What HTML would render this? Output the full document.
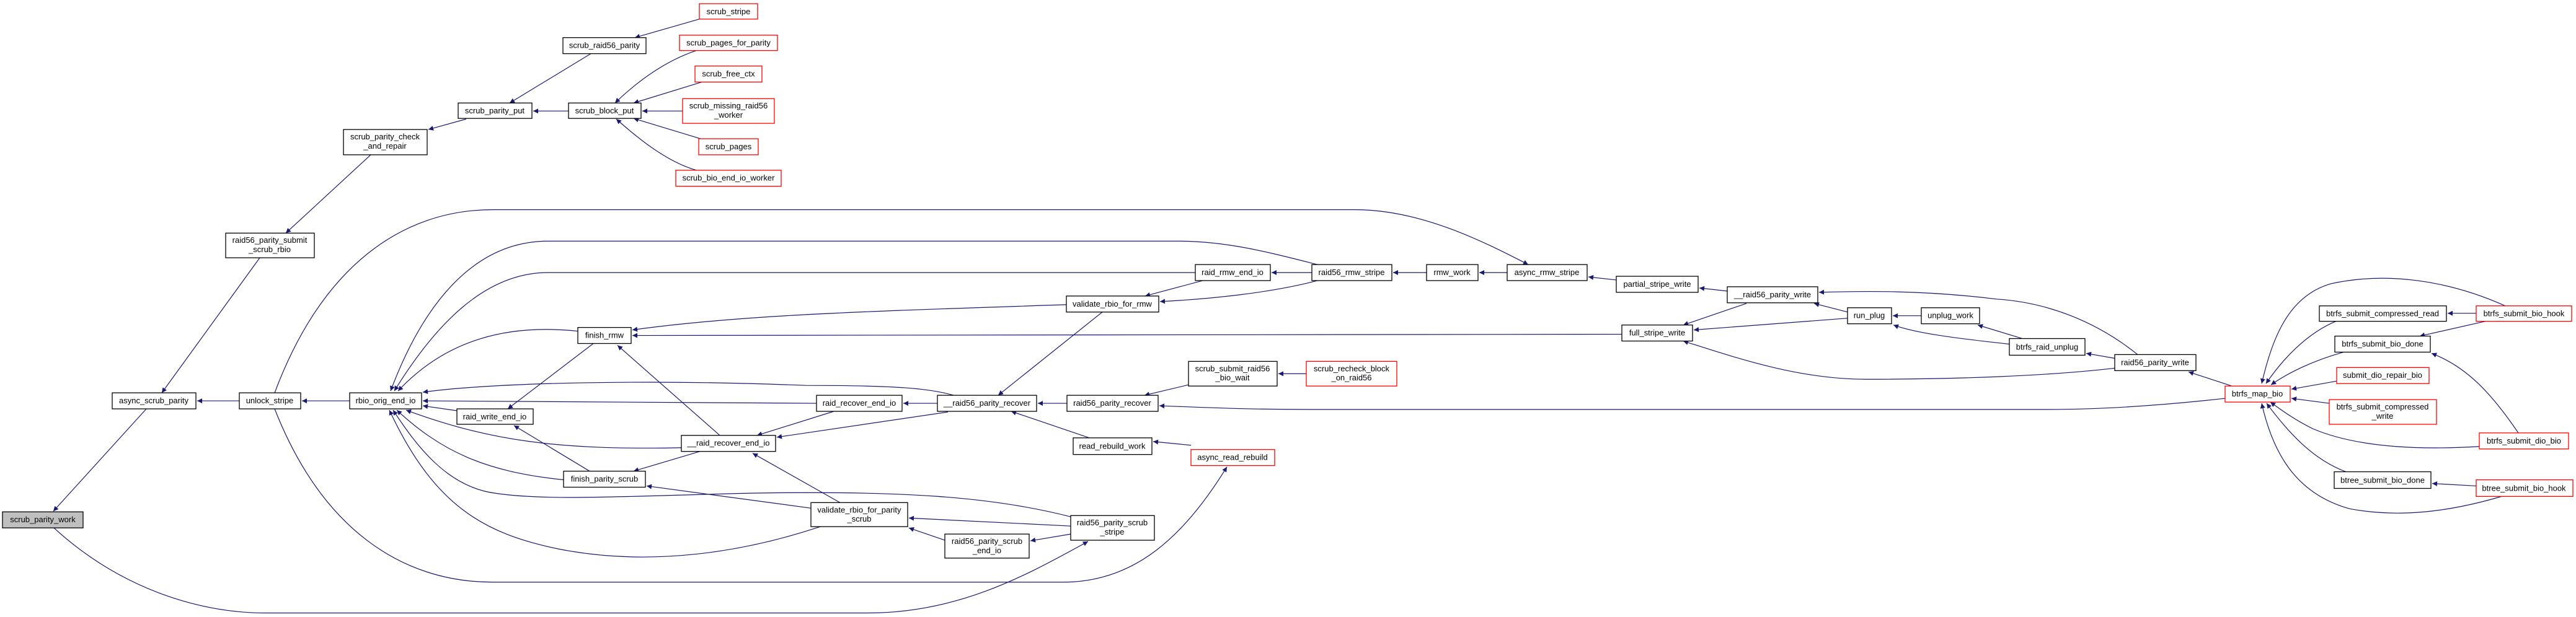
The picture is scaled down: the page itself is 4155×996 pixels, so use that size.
<!DOCTYPE html>
<html><head><meta charset="utf-8"><style>
html,body{margin:0;padding:0;background:#fff;width:4155px;height:996px;overflow:hidden}
svg{display:block}
text{font-family:"Liberation Sans",sans-serif;font-size:13px;fill:#000}
.n{fill:#fff;stroke:#000;stroke-width:1.3}
.r{fill:#fff;stroke:#ff0000;stroke-width:1.3}
.g{fill:#bfbfbf;stroke:#000;stroke-width:1.3}
.e{fill:none;stroke:#191970;stroke-width:1.2;marker-end:url(#a)}
</style></head><body>
<svg width="4155" height="996" viewBox="0 0 4155 996" xmlns="http://www.w3.org/2000/svg">
<defs><marker id="a" viewBox="0 0 10 10" refX="10" refY="5" markerWidth="10" markerHeight="8" markerUnits="userSpaceOnUse" orient="auto"><path d="M0,0 L10,5 L0,10 z" fill="#191970"/></marker></defs>
<g transform="scale(1,0.9955)">
<!-- edges -->
<path class="e" d="M236,663 L86,829"/>
<path class="e" d="M419,418 L261,637"/>
<path class="e" d="M598,251 L461,378"/>
<path class="e" d="M752,193 L691,210"/>
<path class="e" d="M953,87 L822,167"/>
<path class="e" d="M917,180 L860,180"/>
<path class="e" d="M1128,31 L1024,61"/>
<path class="e" d="M1123,82 C1075,98 1030,130 992,167"/>
<path class="e" d="M1132,133 L1022,167"/>
<path class="e" d="M1101,180 L1036,180"/>
<path class="e" d="M1130,225 L1022,192"/>
<path class="e" d="M1123,276 C1075,262 1030,225 994,193"/>
<path class="e" d="M386,650 L318,650"/>
<path class="e" d="M564,650 L487,650"/>
<path class="e" d="M443,637 C520,430 650,340 795,340 L2186,340 C2290,340 2390,390 2465,429"/>
<path class="e" d="M443,663 C520,860 650,944 795,944 L1715,944 C1830,944 1910,870 1979,757"/>
<path class="e" d="M87,856 C200,960 330,994 429,994 L1400,994 C1550,994 1660,930 1755,878"/>
<path class="e" d="M2125,429 C2050,410 1980,391 1900,391 L884,391 C760,391 680,500 630,634"/>
<path class="e" d="M1928,442 L884,442 C780,442 700,530 636,634"/>
<path class="e" d="M932,537 C820,525 720,550 642,634"/>
<path class="e" d="M1720,494 C1400,505 1200,510 1020,535"/>
<path class="e" d="M2616,542 L1020,544"/>
<path class="e" d="M737,666 L682,658"/>
<path class="e" d="M1538,641 C1500,630 1450,625 1300,625 C1050,615 800,620 682,636"/>
<path class="e" d="M1317,654 L682,650"/>
<path class="e" d="M1099,726 C900,730 790,715 655,665"/>
<path class="e" d="M909,778 C780,765 710,730 640,665"/>
<path class="e" d="M1727,838 C1600,805 1450,795 1200,800 C1000,805 880,812 800,800 C720,790 670,720 634,665"/>
<path class="e" d="M1323,854 C1200,895 1050,920 900,890 C780,865 700,820 628,665"/>
<path class="e" d="M957,557 L819,663"/>
<path class="e" d="M1161,706 L996,560"/>
<path class="e" d="M951,764 L829,690"/>
<path class="e" d="M1129,732 L1022,764"/>
<path class="e" d="M1345,667 L1221,706"/>
<path class="e" d="M1529,668 L1253,709"/>
<path class="e" d="M1355,815 L1214,735"/>
<path class="e" d="M1308,824 L1043,788"/>
<path class="e" d="M1727,853 L1466,840"/>
<path class="e" d="M1524,876 L1466,856"/>
<path class="e" d="M1727,866 L1662,877"/>
<path class="e" d="M1512,654 L1457,654"/>
<path class="e" d="M1778,506 L1610,641"/>
<path class="e" d="M1721,654 L1674,654"/>
<path class="e" d="M1757,710 L1631,667"/>
<path class="e" d="M1921,722 L1860,716"/>
<path class="e" d="M1917,624 L1846,641"/>
<path class="e" d="M2107,606 L2062,606"/>
<path class="e" d="M3589,646 C3500,656 3400,664 3300,664 L2114,664 C2000,664 1930,660 1870,658"/>
<path class="e" d="M2116,442 L2051,442"/>
<path class="e" d="M1940,455 L1847,480"/>
<path class="e" d="M2125,455 C2050,475 1950,485 1871,489"/>
<path class="e" d="M2301,442 L2247,442"/>
<path class="e" d="M2431,442 L2386,442"/>
<path class="e" d="M2607,454 L2562,449"/>
<path class="e" d="M2786,472 L2741,467"/>
<path class="e" d="M2817,492 L2715,527"/>
<path class="e" d="M2980,516 L2732,535"/>
<path class="e" d="M3411,597 C3300,610 3150,615 3010,615 C2900,615 2800,580 2715,553"/>
<path class="e" d="M2980,506 L2926,492"/>
<path class="e" d="M3448,575 C3380,520 3300,490 3220,485 C3100,470 3000,472 2934,474"/>
<path class="e" d="M3099,512 L3053,512"/>
<path class="e" d="M3241,558 C3150,548 3090,540 3054,527"/>
<path class="e" d="M3262,549 L3190,527"/>
<path class="e" d="M3411,581 L3365,573"/>
<path class="e" d="M3600,626 L3530,603"/>
<path class="e" d="M4041,496 C3950,455 3850,440 3760,460 C3690,480 3665,550 3648,622"/>
<path class="e" d="M3770,520 C3720,540 3680,585 3655,622"/>
<path class="e" d="M3780,571 C3730,585 3690,605 3663,624"/>
<path class="e" d="M3769,618 L3696,631"/>
<path class="e" d="M3757,654 L3696,646"/>
<path class="e" d="M3999,724 C3900,730 3800,725 3730,695 C3700,680 3680,665 3662,652"/>
<path class="e" d="M3784,765 C3730,745 3690,700 3656,654"/>
<path class="e" d="M4035,805 C3950,830 3870,840 3790,825 C3700,800 3665,730 3648,654"/>
<path class="e" d="M3994,508 L3948,508"/>
<path class="e" d="M4013,520 L3903,545"/>
<path class="e" d="M4062,702 C4020,640 3980,595 3922,573"/>
<path class="e" d="M3994,788 L3923,784"/>
<!-- nodes -->
<g text-anchor="middle">
<rect class="g" x="4" y="830" width="130" height="26"/><text x="69" y="847">scrub_parity_work</text>
<rect class="n" x="181" y="637" width="135" height="26"/><text x="248" y="654">async_scrub_parity</text>
<rect class="n" x="364" y="378" width="143" height="40"/><text x="435" y="394">raid56_parity_submit</text><text x="435" y="409">_scrub_rbio</text>
<rect class="n" x="554" y="210" width="135" height="41"/><text x="621" y="226">scrub_parity_check</text><text x="621" y="241">_and_repair</text>
<rect class="n" x="739" y="167" width="119" height="25"/><text x="798" y="184">scrub_parity_put</text>
<rect class="n" x="908" y="61" width="134" height="26"/><text x="975" y="78">scrub_raid56_parity</text>
<rect class="n" x="917" y="167" width="117" height="25"/><text x="975" y="184">scrub_block_put</text>
<rect class="r" x="1128" y="6" width="94" height="25"/><text x="1175" y="23">scrub_stripe</text>
<rect class="r" x="1096" y="57" width="158" height="25"/><text x="1175" y="74">scrub_pages_for_parity</text>
<rect class="r" x="1121" y="107" width="108" height="26"/><text x="1175" y="124">scrub_free_ctx</text>
<rect class="r" x="1101" y="160" width="148" height="40"/><text x="1175" y="176">scrub_missing_raid56</text><text x="1175" y="191">_worker</text>
<rect class="r" x="1127" y="225" width="96" height="26"/><text x="1175" y="242">scrub_pages</text>
<rect class="r" x="1090" y="276" width="170" height="26"/><text x="1175" y="293">scrub_bio_end_io_worker</text>
<rect class="n" x="386" y="637" width="99" height="26"/><text x="435" y="654">unlock_stripe</text>
<rect class="n" x="564" y="637" width="116" height="26"/><text x="622" y="654">rbio_orig_end_io</text>
<rect class="n" x="737" y="663" width="123" height="25"/><text x="798" y="680">raid_write_end_io</text>
<rect class="n" x="932" y="531" width="86" height="26"/><text x="975" y="548">finish_rmw</text>
<rect class="n" x="1099" y="706" width="152" height="26"/><text x="1175" y="723">__raid_recover_end_io</text>
<rect class="n" x="909" y="764" width="132" height="26"/><text x="975" y="781">finish_parity_scrub</text>
<rect class="n" x="1317" y="641" width="138" height="26"/><text x="1386" y="658">raid_recover_end_io</text>
<rect class="n" x="1308" y="815" width="156" height="39"/><text x="1386" y="831">validate_rbio_for_parity</text><text x="1386" y="846">_scrub</text>
<rect class="n" x="1512" y="641" width="160" height="26"/><text x="1592" y="658">__raid56_parity_recover</text>
<rect class="n" x="1721" y="641" width="147" height="26"/><text x="1794" y="658">raid56_parity_recover</text>
<rect class="n" x="1928" y="429" width="121" height="26"/><text x="1988" y="446">raid_rmw_end_io</text>
<rect class="n" x="2116" y="429" width="129" height="26"/><text x="2180" y="446">raid56_rmw_stripe</text>
<rect class="n" x="2301" y="429" width="83" height="26"/><text x="2342" y="446">rmw_work</text>
<rect class="n" x="2431" y="429" width="129" height="26"/><text x="2495" y="446">async_rmw_stripe</text>
<rect class="n" x="2607" y="448" width="132" height="26"/><text x="2673" y="465">partial_stripe_write</text>
<rect class="n" x="1720" y="480" width="149" height="26"/><text x="1794" y="497">validate_rbio_for_rmw</text>
<rect class="n" x="2616" y="527" width="114" height="26"/><text x="2673" y="544">full_stripe_write</text>
<rect class="n" x="1917" y="586" width="143" height="40"/><text x="1988" y="602">scrub_submit_raid56</text><text x="1988" y="617">_bio_wait</text>
<rect class="r" x="2107" y="586" width="146" height="40"/><text x="2180" y="602">scrub_recheck_block</text><text x="2180" y="617">_on_raid56</text>
<rect class="n" x="1731" y="710" width="127" height="27"/><text x="1794" y="728">read_rebuild_work</text>
<rect class="r" x="1921" y="729" width="135" height="26"/><text x="1988" y="746">async_read_rebuild</text>
<rect class="n" x="1524" y="866" width="136" height="39"/><text x="1592" y="882">raid56_parity_scrub</text><text x="1592" y="897">_end_io</text>
<rect class="n" x="1727" y="836" width="135" height="40"/><text x="1794" y="852">raid56_parity_scrub</text><text x="1794" y="867">_stripe</text>
<rect class="n" x="2786" y="465" width="146" height="26"/><text x="2859" y="482">__raid56_parity_write</text>
<rect class="n" x="2980" y="499" width="71" height="26"/><text x="3015" y="516">run_plug</text>
<rect class="n" x="3099" y="499" width="94" height="26"/><text x="3146" y="516">unplug_work</text>
<rect class="n" x="3241" y="549" width="122" height="27"/><text x="3302" y="567">btrfs_raid_unplug</text>
<rect class="n" x="3411" y="575" width="131" height="26"/><text x="3476" y="592">raid56_parity_write</text>
<rect class="r" x="3589" y="626" width="105" height="26"/><text x="3641" y="643">btrfs_map_bio</text>
<rect class="n" x="3741" y="496" width="205" height="25"/><text x="3843" y="513">btrfs_submit_compressed_read</text>
<rect class="r" x="3994" y="496" width="154" height="25"/><text x="4071" y="513">btrfs_submit_bio_hook</text>
<rect class="n" x="3766" y="545" width="154" height="26"/><text x="3843" y="562">btrfs_submit_bio_done</text>
<rect class="r" x="3769" y="596" width="149" height="26"/><text x="3843" y="613">submit_dio_repair_bio</text>
<rect class="r" x="3757" y="648" width="173" height="40"/><text x="3843" y="664">btrfs_submit_compressed</text><text x="3843" y="679">_write</text>
<rect class="r" x="3999" y="702" width="144" height="26"/><text x="4071" y="719">btrfs_submit_dio_bio</text>
<rect class="n" x="3765" y="765" width="156" height="27"/><text x="3843" y="783">btree_submit_bio_done</text>
<rect class="r" x="3994" y="778" width="156" height="27"/><text x="4071" y="796">btree_submit_bio_hook</text>
</g>
</g>
</svg>
</body></html>
